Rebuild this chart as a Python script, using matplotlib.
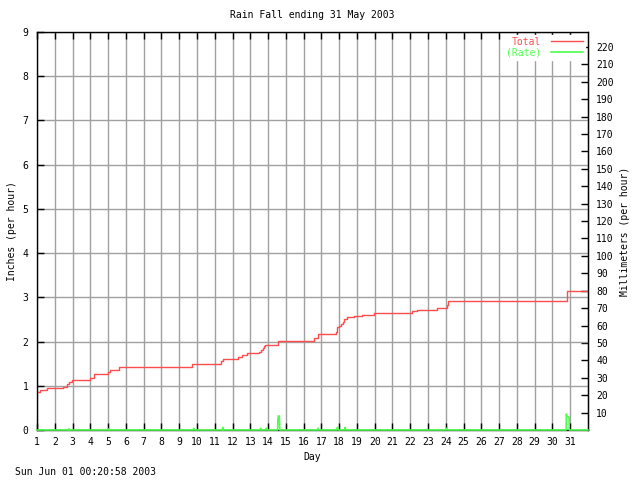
import matplotlib
matplotlib.use('Agg')
import matplotlib.pyplot as plt
import numpy as np

plt.rcParams['font.family'] = 'DejaVu Sans Mono'
plt.rcParams['font.size'] = 7

# cumulative rainfall (inches), stepped
total_day = [1.0, 1.17, 1.58, 2.48, 2.67, 2.82, 2.95, 4.0, 4.22, 5.0, 5.13, 5.6,
             9.74, 11.35, 11.49, 12.33, 12.55, 12.8, 13.51, 13.6, 13.7, 13.78, 13.85,
             14.58, 16.6, 16.81, 17.83, 17.9, 18.0, 18.1, 18.2, 18.29, 18.43, 18.86,
             19.31, 19.97, 22.08, 22.4, 23.53, 24.05, 24.1, 24.15, 30.8, 32.0]
total_in = [0.85, 0.90, 0.94, 0.98, 1.04, 1.08, 1.12, 1.17, 1.27, 1.31, 1.36, 1.42,
            1.49, 1.55, 1.60, 1.64, 1.69, 1.73, 1.77, 1.81, 1.85, 1.89, 1.92,
            2.01, 2.07, 2.17, 2.21, 2.32, 2.36, 2.40, 2.45, 2.50, 2.55, 2.58,
            2.61, 2.65, 2.68, 2.71, 2.76, 2.82, 2.87, 2.92, 3.14, 3.14]

# rain rate (inches per hour)
rate_day = [1.0, 2.78, 2.8, 2.84, 5.02, 5.05, 5.09, 9.78, 9.82, 9.86, 11.43, 11.45, 11.47,
            13.55, 13.58, 13.62, 13.86, 13.9, 13.94, 14.54, 14.55, 14.58, 14.62, 14.64, 14.66,
            16.79, 16.82, 16.86, 17.86, 17.9, 17.94, 18.3, 18.33, 18.37,
            24.02, 24.05, 24.1, 30.77, 30.78, 30.82, 30.86, 30.93, 30.95, 32.0]
rate_in = [0.0, 0.0, 0.03, 0.0, 0.0, 0.03, 0.0, 0.0, 0.04, 0.0, 0.0, 0.06, 0.0,
           0.0, 0.04, 0.0, 0.0, 0.04, 0.0, 0.0, 0.23, 0.32, 0.32, 0.23, 0.0,
           0.0, 0.04, 0.0, 0.0, 0.06, 0.0, 0.0, 0.06, 0.0,
           0.0, 0.04, 0.0, 0.0, 0.36, 0.30, 0.30, 0.30, 0.0, 0.0]

days = list(range(1, 32))
inch_ticks = list(range(0, 10))
mm_ticks = list(range(10, 230, 10))

red = '#ff4d4d'
green = '#4dff4d'
grid = '#a0a0a0'

fig = plt.figure(figsize=(6.4, 4.8), dpi=100)
ax = fig.add_axes([37 / 640, 50 / 480, 551 / 640, 398 / 480])

ax.plot(total_day, total_in, color=red, lw=1, drawstyle='steps-post', label='Total')
ax.plot(rate_day, rate_in, color=green, lw=1.2, label='(Rate)', clip_on=False, zorder=5)

ax.set_xlim(1, 32)
ax.set_ylim(0, 9)
ax.set_xticks(days)
ax.set_yticks(inch_ticks)
ax.grid(True, color=grid, lw=1)
ax.set_axisbelow(True)
ax.tick_params(axis='x', direction='in', top=True, length=5, width=1, pad=5)
ax.tick_params(axis='y', direction='in', length=5, width=1, pad=6)
for s in ax.spines.values():
    s.set_linewidth(1)

sec = ax.secondary_yaxis('right', functions=(lambda x: x * 25.4, lambda x: x / 25.4))
sec.set_yticks(mm_ticks)
sec.tick_params(direction='in', length=5, width=1, pad=6)
sec.set_ylabel('Millimeters (per hour)', labelpad=4)

ax.set_xlabel('Day', labelpad=4)
ax.set_ylabel('Inches (per hour)', labelpad=4)
ax.set_title('Rain Fall ending 31 May 2003', fontsize=7, pad=10)

leg = ax.legend(loc='upper right', markerfirst=False, frameon=True, framealpha=1,
                edgecolor='white', fancybox=False, labelcolor='linecolor',
                handlelength=3.3, borderpad=0.2, labelspacing=0.1, borderaxespad=0.3,
                handletextpad=1.0, fontsize=7)
for t in leg.get_texts():
    t.set_ha('right')

fig.text(15 / 640, 1 - 472 / 480, 'Sun Jun 01 00:20:58 2003', va='center', ha='left', fontsize=7)

fig.savefig('out.png', dpi=100)
